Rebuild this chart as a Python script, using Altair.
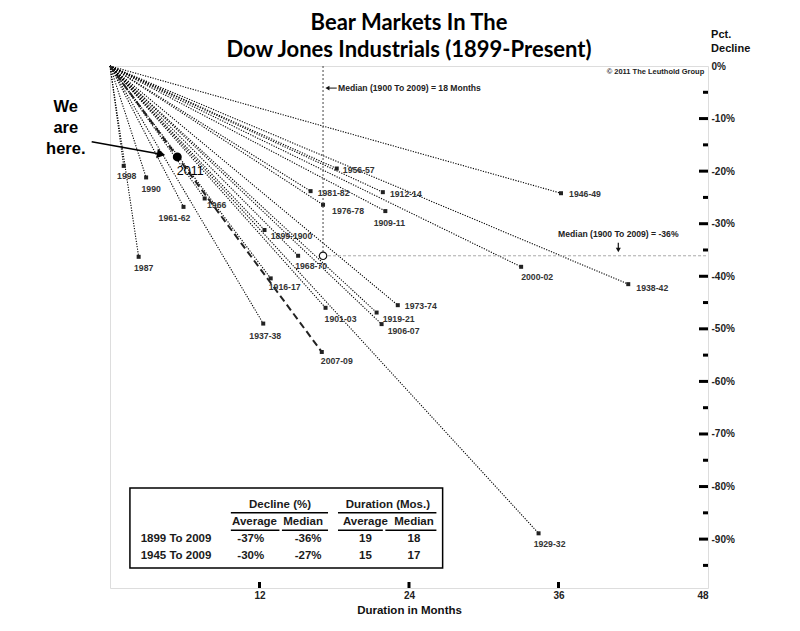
import altair as alt
import pandas as pd

# ---------------- data ----------------
bears = ["1899-1900", "1901-03", "1906-07", "1909-11", "1912-14", "1916-17",
         "1919-21", "1929-32", "1937-38", "1938-42", "1946-49", "1956-57",
         "1961-62", "1966", "1968-70", "1973-74", "1976-78", "1981-82",
         "1987", "1990", "1998", "2000-02", "2007-09"]
months = [12.4, 17.3, 21.8, 22.1, 21.9, 12.9,
          21.4, 34.4, 12.3, 41.6, 36.2, 18.2,
          5.9, 7.6, 15.1, 23.1, 17.1, 16.1,
          2.3, 2.9, 1.1, 33.0, 17.0]
declines = [-31.2, -46.0, -49.1, -27.6, -24.0, -40.4,
            -46.9, -88.9, -49.0, -41.5, -24.2, -19.5,
            -26.8, -25.2, -36.1, -45.5, -26.4, -23.8,
            -36.3, -21.2, -19.0, -38.2, -54.4]
highlight = "2007-09"

current_label = ["2011"]
current_month = [5.4]
current_decline = [-17.3]

median_drawn_month = [17.1]
median_drawn_decline = [-36.1]

title_lines = ["Bear Markets In The", "Dow Jones Industrials (1899-Present)"]

table_periods = ["1899 To 2009", "1945 To 2009"]
avg_decline = ["-37%", "-30%"]
med_decline = ["-36%", "-27%"]
avg_duration = ["19", "15"]
med_duration = ["18", "17"]

x_tick_values = [12, 24, 36, 48]
y_label_values = [0, -10, -20, -30, -40, -50, -60, -70, -80, -90]
y_major_ticks = [-10, -20, -30, -40, -50, -60, -70, -80, -90]
y_minor_ticks = [-5, -15, -25, -35, -45, -55, -65, -75, -85, -95]

# ---------------- layout ----------------
W, H = 598, 522
X_MAX, Y_MIN = 48, -99.3
PXX = W / X_MAX
PXY = H / (-Y_MIN)
FONT = "Liberation Sans"

# label offsets in pixels (dx, dy) relative to each marker
label_offsets = {
    "1998": (3, 10), "1990": (5, 12), "1961-62": (-9, 11), "1987": (5, 11),
    "1966": (12, 7), "1899-1900": (27, 6), "1968-70": (13, 10), "1916-17": (14, 9),
    "1901-03": (15, 11), "1937-38": (2, 12), "1956-57": (22, 1), "1981-82": (23, 2),
    "1912-14": (23, 2), "1976-78": (25, 6), "1909-11": (4, 12), "1973-74": (23, 1),
    "1919-21": (22, 6), "1906-07": (22, 7), "2007-09": (15, 9), "1946-49": (24, 1),
    "2000-02": (16, 10), "1938-42": (24, 4), "1929-32": (11, 11),
}

df = pd.DataFrame({"bear": bears, "month": months, "decline": declines})
df["x0"] = 0.0
df["y0"] = 0.0
df["lab_x"] = [m + label_offsets[b][0] / PXX for b, m in zip(bears, months)]
df["lab_y"] = [d - label_offsets[b][1] / PXY for b, d in zip(bears, declines)]

xs = alt.Scale(domain=[0, X_MAX], nice=False, zero=False)
ys = alt.Scale(domain=[Y_MIN, 0], nice=False, zero=False)
x_axis = alt.Axis(values=x_tick_values, title="Duration in Months", ticks=False,
                  domain=False, grid=False, labelFont=FONT, labelFontSize=10,
                  labelFontWeight="bold", labelColor="#222", labelPadding=2,
                  titleFont=FONT, titleFontSize=11.5, titleFontWeight="bold",
                  titleColor="#111", titlePadding=4)
y_axis = alt.Axis(orient="right", values=y_label_values, title=None, ticks=False,
                  domain=False, grid=False, labelFont=FONT, labelFontSize=10,
                  labelFontWeight="bold", labelColor="#222", labelPadding=3,
                  labelExpr="(datum.value < 0 ? '-' : '') + abs(datum.value) + '%'")


def X(f):
    return alt.X(f, type="quantitative", scale=xs, axis=x_axis)


def Y(f):
    return alt.Y(f, type="quantitative", scale=ys, axis=y_axis)


base = alt.Chart(df)

dotted = base.transform_filter(alt.datum.bear != highlight).mark_rule(
    color="#000", strokeWidth=1.1, strokeDash=[1.2, 1.4]
).encode(x=X("x0"), y=Y("y0"), x2="month", y2="decline")

dashed = base.transform_filter(alt.datum.bear == highlight).mark_rule(
    color="#222", strokeWidth=2, strokeDash=[7, 4]
).encode(x=X("x0"), y=Y("y0"), x2="month", y2="decline")

markers = base.mark_square(size=16, color="#222", opacity=1).encode(
    x=X("month"), y=Y("decline"))

labels = base.mark_text(font=FONT, fontSize=8.7, fontWeight="bold", color="#333").encode(
    x=X("lab_x"), y=Y("lab_y"), text="bear:N")

# medians
med_df = pd.DataFrame({"m": median_drawn_month, "d": median_drawn_decline,
                       "top": [0.0], "right": [float(X_MAX)]})
med_base = alt.Chart(med_df)
med_v = med_base.mark_rule(color="#444", strokeWidth=1, strokeDash=[2, 2]).encode(
    x=X("m"), y=Y("top"), y2="d")
med_h = med_base.mark_rule(color="#aaa", strokeWidth=1, strokeDash=[3, 2]).encode(
    x=X("m"), x2="right", y=Y("d"))
med_pt = med_base.mark_point(shape="circle", size=55, filled=True, fill="white",
                             stroke="#111", strokeWidth=1.2, opacity=1).encode(
    x=X("m"), y=Y("d"))

# current bear (2011)
cur_df = pd.DataFrame({"label": current_label, "month": current_month,
                       "decline": current_decline})
cur_df["lab_x"] = cur_df["month"] + 13 / PXX
cur_df["lab_y"] = cur_df["decline"] - 14 / PXY
cur_base = alt.Chart(cur_df)
cur_pt = cur_base.mark_circle(size=80, color="#000", opacity=1).encode(
    x=X("month"), y=Y("decline"))
cur_lab = cur_base.mark_text(font=FONT, fontSize=12.5, color="#000").encode(
    x=X("lab_x"), y=Y("lab_y"), text="label:N")

# title drawn as text above the frame (data units above 0%)
title_df = pd.DataFrame({"x": [24.0, 24.0], "y": [8.1, 3.0], "t": title_lines})
title = alt.Chart(title_df).mark_text(font="Lato", fontSize=22, fontWeight="bold",
                                      color="#000", clip=False).encode(
    x=X("x"), y=Y("y"), text="t:N")

# annotations (positions in data units)
ann_df = pd.DataFrame({
    "x": [-3.55, -3.55, -3.55],
    "y": [-7.8, -11.8, -15.8],
    "t": ["We", "are", "here."],
})
ann_we = alt.Chart(ann_df).mark_text(font=FONT, fontSize=16.5, fontWeight="bold",
                                     color="#000", clip=False).encode(
    x=X("x"), y=Y("y"), text="t:N")

arrow_df = pd.DataFrame({"x": [-1.47], "y": [-14.4], "x2": [4.1], "y2": [-16.78]})
arrow_line = alt.Chart(arrow_df).mark_rule(color="#000", strokeWidth=1.6, clip=False).encode(
    x=X("x"), y=Y("y"), x2="x2", y2="y2")
arrow_head = alt.Chart(arrow_df).mark_point(shape="triangle-right", angle=10, size=90,
                                            filled=True, color="#000", opacity=1,
                                            clip=False).encode(
    x=X("x2"), y=Y("y2"))

# vertical median note
vnote_df = pd.DataFrame({"x": [18.3], "y": [-4.2], "t": ["Median (1900 To 2009) = 18 Months"],
                         "ax": [18.2], "ax2": [17.45]})
vnote_text = alt.Chart(vnote_df).mark_text(font=FONT, fontSize=8.6, fontWeight="bold",
                                           align="left", color="#222").encode(
    x=X("x"), y=Y("y"), text="t:N")
vnote_line = alt.Chart(vnote_df).mark_rule(color="#111", strokeWidth=1).encode(
    x=X("ax"), x2="ax2", y=Y("y"))
vnote_head = alt.Chart(vnote_df).mark_point(shape="triangle-left", size=22, filled=True,
                                            color="#111", opacity=1).encode(
    x=X("ax2"), y=Y("y"))

# horizontal median note
hnote_df = pd.DataFrame({"x": [40.8], "y": [-32.0], "t": ["Median (1900 To 2009) = -36%"],
                         "a1": [-33.6], "a2": [-35.0]})
hnote_text = alt.Chart(hnote_df).mark_text(font=FONT, fontSize=8.6, fontWeight="bold",
                                           color="#222").encode(
    x=X("x"), y=Y("y"), text="t:N")
hnote_line = alt.Chart(hnote_df).mark_rule(color="#111", strokeWidth=1.2).encode(
    x=X("x"), y=Y("a1"), y2="a2")
hnote_head = alt.Chart(hnote_df).mark_point(shape="triangle-down", size=25, filled=True,
                                            color="#111", opacity=1).encode(
    x=X("x"), y=Y("a2"))

# copyright & right axis title
misc_df = pd.DataFrame({"x": [47.7], "y": [-1.1], "t": ["\u00a9 2011 The Leuthold Group"]})
copyright = alt.Chart(misc_df).mark_text(font=FONT, fontSize=7.5, fontWeight="bold",
                                         align="right", color="#222").encode(
    x=X("x"), y=Y("y"), text="t:N")
pct_df = pd.DataFrame({"x": [48.25, 48.25], "y": [5.9, 3.2], "t": ["Pct.", "Decline"]})
pct = alt.Chart(pct_df).mark_text(font=FONT, fontSize=11, fontWeight="bold", align="left",
                                  color="#111", clip=False).encode(
    x=X("x"), y=Y("y"), text="t:N")

# inward axis ticks
ymaj = alt.Chart(pd.DataFrame({"v": y_major_ticks})).mark_rule(
    color="#000", strokeWidth=3).encode(y=Y("v"), x=alt.value(W - 9), x2=alt.value(W))
ymin = alt.Chart(pd.DataFrame({"v": y_minor_ticks})).mark_rule(
    color="#000", strokeWidth=3).encode(y=Y("v"), x=alt.value(W - 5), x2=alt.value(W))
xtk = alt.Chart(pd.DataFrame({"v": x_tick_values[:-1]})).mark_rule(
    color="#000", strokeWidth=3).encode(x=X("v"), y=alt.value(H - 6), y2=alt.value(H))

# summary table
tbl_rect = alt.Chart(pd.DataFrame({"x": [1.6], "x2": [26.7], "y": [-80.3], "y2": [-95.5]})).mark_rect(
    fill="white", stroke="#000", strokeWidth=1.5).encode(
    x=X("x"), x2="x2", y=Y("y"), y2="y2")

cols_x = [11.3, 15.9, 20.5, 24.4]
cell_rows = []
for r, period in enumerate(table_periods):
    yy = [-90.0, -93.2][r]
    cell_rows.append({"x": 2.46, "y": yy, "t": period, "a": "left"})
    for cx, val in zip(cols_x, [avg_decline[r], med_decline[r], avg_duration[r], med_duration[r]]):
        cell_rows.append({"x": cx, "y": yy, "t": val, "a": "center"})
head_rows = [
    {"x": 13.65, "y": -83.5, "t": "Decline (%)"},
    {"x": 22.3, "y": -83.5, "t": "Duration (Mos.)"},
    {"x": 11.6, "y": -86.8, "t": "Average"},
    {"x": 15.5, "y": -86.8, "t": "Median"},
    {"x": 20.5, "y": -86.8, "t": "Average"},
    {"x": 24.4, "y": -86.8, "t": "Median"},
]
cells_df = pd.DataFrame(cell_rows)
tbl_left = alt.Chart(cells_df[cells_df.a == "left"]).mark_text(
    font=FONT, fontSize=11.5, fontWeight="bold", color="#1a1a1a", align="left").encode(
    x=X("x"), y=Y("y"), text="t:N")
tbl_center = alt.Chart(pd.concat([cells_df[cells_df.a == "center"], pd.DataFrame(head_rows)])).mark_text(
    font=FONT, fontSize=11.5, fontWeight="bold", color="#1a1a1a").encode(
    x=X("x"), y=Y("y"), text="t:N")
ul_df = pd.DataFrame({
    "x": [9.7, 18.3, 9.7, 13.8, 18.3, 22.1],
    "x2": [17.5, 26.2, 13.6, 17.5, 21.9, 26.2],
    "y": [-85.0, -85.0, -88.3, -88.3, -88.3, -88.3],
})
tbl_ul = alt.Chart(ul_df).mark_rule(color="#000", strokeWidth=1.5).encode(
    x=X("x"), x2="x2", y=Y("y"))

chart = alt.layer(
    dotted, dashed, markers, labels,
    med_v, med_h, med_pt,
    cur_pt, cur_lab,
    title, ann_we, arrow_line, arrow_head,
    vnote_line, vnote_head, vnote_text,
    hnote_line, hnote_head, hnote_text,
    copyright, pct,
    ymaj, ymin, xtk,
    tbl_rect, tbl_ul, tbl_left, tbl_center,
).properties(
    width=W, height=H,
    autosize=alt.AutoSizeParams(type="none"),
    padding={"left": 102, "top": 58, "right": 84, "bottom": 35},
).configure_view(
    stroke="#000", strokeWidth=3
).configure(background="white")

chart.save("out.html", embed_options={"renderer": "svg", "actions": False})
